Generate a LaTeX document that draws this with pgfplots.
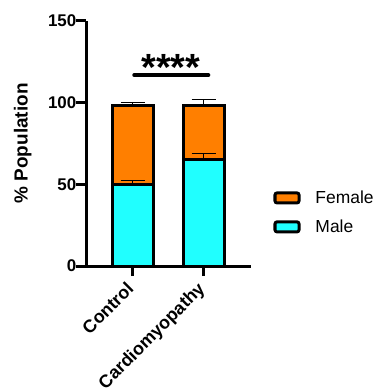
\documentclass[border=0pt]{standalone}
\usepackage{fontspec}
\setmainfont{Liberation Sans}
\usepackage{pgfplots}
\pgfplotsset{compat=1.18}
\definecolor{myorange}{HTML}{FF7F00}
\definecolor{mycyan}{HTML}{20FFFF}
\begin{document}
\begin{tikzpicture}
\begin{axis}[name=ax, scale only axis, width=164.5bp, height=245.3bp,
  xmin=-0.648, xmax=1.669, ymin=0, ymax=150,
  ybar stacked, bar width=41bp,
  axis lines*=left,
  axis line style={line width=3bp, black},
  xtick={0,1}, xticklabels={Control, Cardiomyopathy},
  ytick={0,50,100,150},
  tick align=outside, major tick length=10bp,
  tick style={line width=3bp, black},
  /pgf/number format/assume math mode=true,
  x tick label style={xshift=-7bp, yshift=-4.5bp, rotate=45, anchor=north east, inner sep=0pt, font=\fontsize{18}{20}\selectfont\bfseries},
  y tick label style={anchor=east, inner sep=0pt, font=\fontsize{17}{20}\selectfont\bfseries},
  ylabel={\% Population},
  every axis y label/.style={at={(axis description cs:-0.333,0.5)}, rotate=90, anchor=south, inner sep=0pt, font=\fontsize{19}{22}\selectfont\bfseries},
  reverse legend, legend cell align=left,
  legend style={at={(axis description cs:1,0.219)}, anchor=west, xshift=22.3bp,
    draw=none, fill=none, inner sep=0pt, row sep=15.7bp, column sep=15bp,
    font=\fontsize{17.5}{20}\selectfont,
    nodes={inner sep=0pt, text height=12.5bp, text depth=0pt}},
  legend image code/.code={\draw[#1, draw=black, line width=3bp, rounded corners=2bp] (0bp,-5.5bp) rectangle (24bp,4.5bp);},
]
\addplot[fill=mycyan, draw=black, line width=3bp] coordinates {(0,50) (1,65)};
\addlegendentry{Male}
\addplot[fill=myorange, draw=black, line width=3bp] coordinates {(0,48) (1,33)};
\addlegendentry{Female}
\end{axis}
\begin{axis}[scale only axis, width=164.5bp, height=245.3bp,
  xmin=-0.648, xmax=1.669, ymin=0, ymax=150, hide axis]
\addplot[draw=none, mark=none, error bars/.cd, y dir=plus, y explicit,
  error bar style={line width=1bp, black},
  error mark options={line width=1bp, black, mark size=12bp, rotate=90}]
  coordinates {(0,98) +- (0,2) (1,98) +- (0,4) (0,50) +- (0,2) (1,65) +- (0,4)};
\addplot[black, line width=4bp, line cap=round] coordinates {(0.025,116.7) (1.068,116.7)};
\node[font=\fontsize{38}{38}\selectfont\bfseries, inner sep=0pt] at (axis cs:0.54,121.5) {****};
\end{axis}
\pgfresetboundingbox
\path[use as bounding box] ([shift={(-86.5bp,-124bp)}]ax.south west) rectangle ([shift={(294.5bp,266bp)}]ax.south west);
\end{tikzpicture}
\end{document}
